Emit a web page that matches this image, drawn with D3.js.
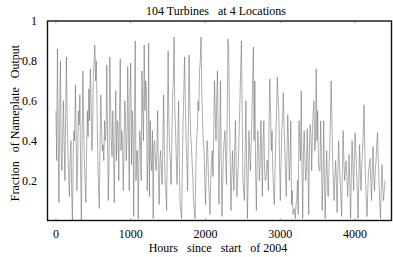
<!DOCTYPE html>
<html>
<head>
<meta charset="utf-8">
<script src="https://cdn.jsdelivr.net/npm/d3@7"></script>
<style>
  body { margin: 0; background: #fff; }
  text { font-family: "Liberation Serif", "DejaVu Serif", serif; fill: #000; white-space: pre; }
</style>
</head>
<body>
<div id="chart"></div>
<script>
// output every 20 hours (hour 0, 20, 40 ...)
var hourStep = 20;
var output = [
  0.55, 0.86, 0.09, 0.80, 0.25, 0.60, 0.20, 0.82, 0.35, 0.12,
  0.40, 0.00, 0.45, 0.68, 0.15, 0.55, 0.63, 0.00, 0.75, 0.30,
  0.09, 0.55, 0.66, 0.76, 0.35, 0.72, 0.88, 0.80, 0.30, 0.06,
  0.63, 0.35, 0.30, 0.40, 0.78, 0.10, 0.82, 0.40, 0.55, 0.09,
  0.65, 0.50, 0.20, 0.81, 0.45, 0.15, 0.60, 0.30, 0.77, 0.15,
  0.79, 0.55, 0.02, 0.90, 0.35, 0.01, 0.45, 0.20, 0.55, 0.88,
  0.70, 0.15, 0.89, 0.50, 0.25, 0.01, 0.40, 0.25, 0.55, 0.08,
  0.35, 0.18, 0.63, 0.20, 0.05, 0.85, 0.35, 0.18, 0.63, 0.92,
  0.45, 0.18, 0.60, 0.08, 0.01, 0.50, 0.82, 0.40, 0.15, 0.83,
  0.45, 0.30, 0.10, 0.01, 0.40, 0.60, 0.75, 0.92, 0.50, 0.35,
  0.08, 0.40, 0.20, 0.03, 0.30, 0.22, 0.70, 0.40, 0.75, 0.08,
  0.70, 0.02, 0.35, 0.45, 0.18, 0.91, 0.55, 0.05, 0.35, 0.15,
  0.50, 0.12, 0.30, 0.60, 0.90, 0.20, 0.10, 0.60, 0.01, 0.45,
  0.25, 0.50, 0.87, 0.70, 0.05, 0.45, 0.20, 0.50, 0.12, 0.50,
  0.20, 0.30, 0.15, 0.71, 0.35, 0.25, 0.08, 0.40, 0.72, 0.55,
  0.10, 0.45, 0.64, 0.35, 0.12, 0.53, 0.20, 0.50, 0.15, 0.05,
  0.01, 0.10, 0.03, 0.40, 0.65, 0.01, 0.45, 0.20, 0.46, 0.03,
  0.48, 0.25, 0.54, 0.35, 0.76, 0.55, 0.25, 0.50, 0.05, 0.50,
  0.01, 0.35, 0.12, 0.35, 0.70, 0.30, 0.10, 0.30, 0.04, 0.40,
  0.20, 0.02, 0.45, 0.20, 0.30, 0.12, 0.33, 0.01, 0.40, 0.15,
  0.44, 0.25, 0.01, 0.38, 0.15, 0.35, 0.58, 0.20, 0.02, 0.25,
  0.31, 0.10, 0.37, 0.15, 0.30, 0.44, 0.20, 0.01, 0.28, 0.10,
  0.20
];
// output read at the hours in between (10, 30, 50 ...)
var outputMid = [
  0.30, 0.45, 0.50, 0.35, 0.42, 0.38, 0.55, 0.50, 0.22, 0.30,
  0.15, 0.30, 0.40, 0.45, 0.30, 0.48, 0.25, 0.40, 0.50, 0.20,
  0.35, 0.42, 0.50, 0.60, 0.45, 0.80, 0.70, 0.55, 0.15, 0.40,
  0.45, 0.38,
  0.50, 0.45, 0.40, 0.30, 0.60, 0.32, 0.35, 0.42, 0.30, 0.48,
  0.55, 0.35, 0.40, 0.35, 0.52, 0.40, 0.45, 0.65, 0.28, 0.45,
  0.55, 0.20, 0.35, 0.30, 0.40, 0.75, 0.40, 0.55, 0.65, 0.30,
  0.12, 0.30, 0.45, 0.38, 0.30, 0.35, 0.22, 0.30,
  0.25, 0.40, 0.35, 0.15, 0.45, 0.50, 0.30, 0.40, 0.70, 0.55,
  0.30, 0.40, 0.30, 0.05, 0.25, 0.65, 0.60, 0.30, 0.45, 0.60,
  0.38, 0.22, 0.05, 0.25, 0.45, 0.55, 0.80, 0.65, 0.40, 0.20,
  0.25, 0.35, 0.12, 0.20, 0.35, 0.45, 0.55,
  0.60, 0.40, 0.35, 0.30, 0.20, 0.40, 0.30, 0.50, 0.85, 0.30,
  0.20, 0.25, 0.35, 0.28, 0.20, 0.45, 0.75, 0.55, 0.15, 0.35,
  0.30, 0.20, 0.35, 0.38, 0.70, 0.40, 0.25, 0.30, 0.35, 0.28,
  0.35, 0.40, 0.25, 0.22, 0.30, 0.50, 0.55,
  0.45, 0.15, 0.25, 0.55, 0.62, 0.30, 0.28, 0.50, 0.48, 0.25,
  0.35, 0.38, 0.30, 0.08, 0.03, 0.06, 0.08, 0.20, 0.50, 0.30,
  0.25, 0.35, 0.30, 0.25, 0.30, 0.38, 0.42, 0.45, 0.60, 0.38,
  0.40, 0.30, 0.25, 0.30, 0.20, 0.22, 0.20,
  0.20, 0.25, 0.50, 0.50, 0.20, 0.22, 0.20, 0.25, 0.28, 0.12,
  0.25, 0.30, 0.25, 0.22, 0.20, 0.18, 0.22, 0.28, 0.30, 0.35,
  0.15, 0.20, 0.25, 0.28, 0.45, 0.35, 0.10, 0.15, 0.28, 0.20,
  0.25, 0.22, 0.25, 0.38, 0.30, 0.08, 0.15, 0.18, 0.15
];
var xTicks = [0, 1000, 2000, 3000, 4000];
var yTicks = [0.2, 0.4, 0.6, 0.8, 1];
var title = "104 Turbines   at 4 Locations";
var xTitle = "Hours   since   start   of 2004";
var yTitle = "Fraction   of Nameplate   Output";

// merge the two readings into one series of [hour, value]
var series = [];
output.forEach(function(v, i) {
  series.push([i * hourStep, v]);
  if (i < outputMid.length) series.push([i * hourStep + hourStep / 2, outputMid[i]]);
});

var width = 393, height = 257;
var margin = {top: 21, right: 1.5, bottom: 36.5, left: 47.5};

var svg = d3.select("#chart").append("svg")
    .attr("width", width)
    .attr("height", height);

var x = d3.scaleLinear()
    .domain([-113, 4487])
    .range([margin.left, width - margin.right]);

var y = d3.scaleLinear()
    .domain([0, 1])
    .range([height - margin.bottom, margin.top]);

var line = d3.line()
    .x(function(d) { return x(d[0]); })
    .y(function(d) { return y(d[1]); });

svg.append("path")
    .datum(series)
    .attr("fill", "none")
    .attr("stroke", "#6a6a6a")
    .attr("stroke-width", 0.55)
    .attr("d", line);

// frame
svg.append("rect")
    .attr("x", margin.left)
    .attr("y", margin.top)
    .attr("width", width - margin.right - margin.left)
    .attr("height", height - margin.bottom - margin.top)
    .attr("fill", "none")
    .attr("stroke", "#111")
    .attr("stroke-width", 1.4);

// tick labels
svg.append("g").selectAll("text")
    .data(xTicks)
    .enter().append("text")
      .attr("x", function(d) { return x(d); })
      .attr("y", 238)
      .attr("text-anchor", "middle")
      .attr("font-size", 12)
      .text(function(d) { return d; });

svg.append("g").selectAll("text")
    .data(yTicks)
    .enter().append("text")
      .attr("x", 37)
      .attr("y", function(d) { return y(d) + 4; })
      .attr("text-anchor", "end")
      .attr("font-size", 12)
      .text(function(d) { return d; });

// small inward ticks
var tickG = svg.append("g").attr("stroke", "#444").attr("stroke-width", 0.6);
xTicks.forEach(function(d) {
  tickG.append("line").attr("x1", x(d)).attr("x2", x(d))
    .attr("y1", margin.top).attr("y2", margin.top + 2);
  tickG.append("line").attr("x1", x(d)).attr("x2", x(d))
    .attr("y1", y(0)).attr("y2", y(0) - 2);
});

svg.append("text")
    .attr("x", 216)
    .attr("y", 15)
    .attr("text-anchor", "middle")
    .attr("font-size", 12)
    .text(title);

svg.append("text")
    .attr("x", 218)
    .attr("y", 252)
    .attr("text-anchor", "middle")
    .attr("font-size", 12)
    .text(xTitle);

svg.append("text")
    .attr("transform", "translate(19,123)rotate(-90)")
    .attr("text-anchor", "middle")
    .attr("font-size", 12)
    .text(yTitle);
</script>
</body>
</html>
